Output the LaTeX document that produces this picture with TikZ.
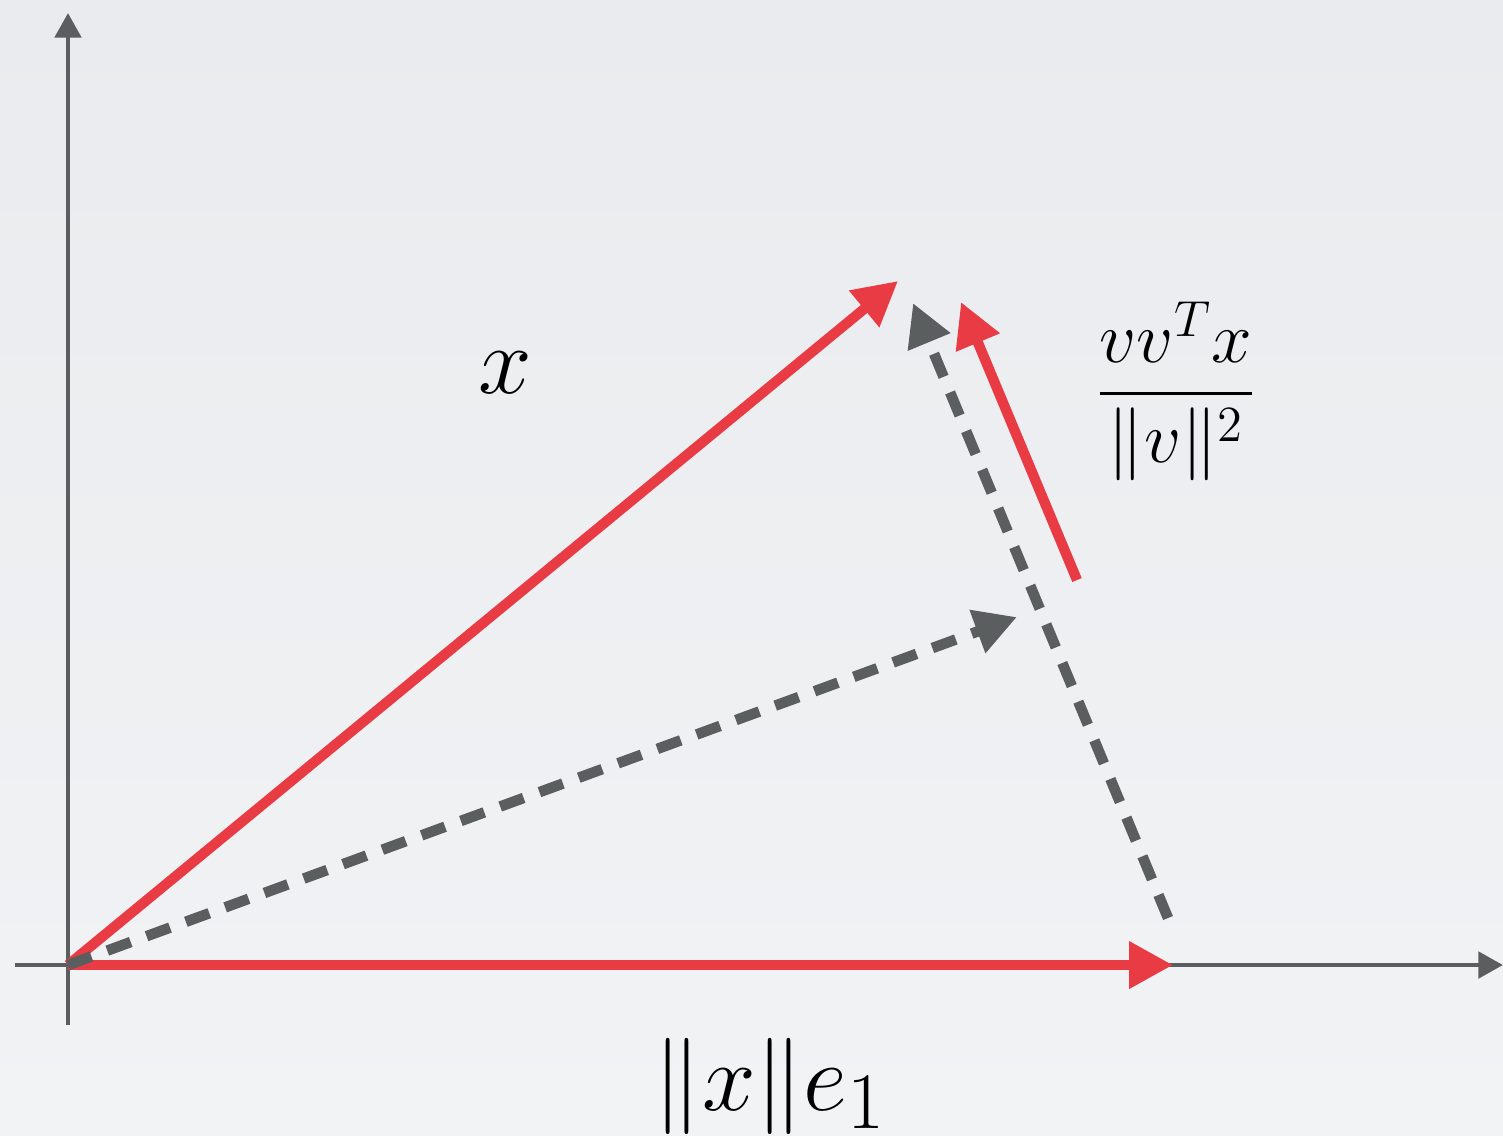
\documentclass[tikz,border=0pt]{standalone}
\usepackage{graphicx, amsmath, amssymb}
\usetikzlibrary{arrows.meta}

\definecolor{vecred}{RGB}{233,59,68}
\definecolor{axisgray}{RGB}{90,94,94}
\definecolor{bgtop}{RGB}{233,235,238}
\definecolor{bgbottom}{RGB}{242,243,245}

\tikzset{
    axis/.style={line width=1.4pt, color=axisgray, -{Triangle[length=7pt, width=7.4pt]}},
    redvec/.style={line width=2.9pt, color=vecred, -{Triangle[length=12.5pt, width=12.8pt]}},
    projvec/.style={line width=3pt, color=axisgray, dash pattern=on 7.1pt off 4.8pt, -{Triangle[length=12pt, width=12.3pt]}},
    mathlabel/.style={font=\Huge}
}

\begin{document}
\begin{tikzpicture}[x=0.01cm, y=-0.01cm]
    % Background
    \shade[top color=bgtop, bottom color=bgbottom] (0,0) rectangle (1503,1135);
    \useasboundingbox (0,0) rectangle (1503,1135);

    % Points
    \coordinate (O) at (68,965);
    \coordinate (xleft) at (15,965);
    \coordinate (xright) at (1503,965);
    \coordinate (ybottom) at (68,1025);
    \coordinate (ytop) at (68,13);
    \coordinate (xtip) at (898,281);
    \coordinate (etip) at (1173,965);
    \coordinate (vtip) at (1017,617);
    \coordinate (reflfoot) at (1168,918);
    \coordinate (refltip) at (913,303);
    \coordinate (hstart) at (1077,580);
    \coordinate (htip) at (961,302);

    % Draw axes
    \draw[axis] (xleft) -- (xright);
    \draw[axis] (ybottom) -- (ytop);

    % Draw vectors
    \draw[redvec] (O) -- (xtip);
    \draw[redvec] (O) -- (etip);
    \draw[redvec] (hstart) -- (htip);
    \draw[projvec] (O) -- (vtip);
    \draw[projvec] (reflfoot) -- (refltip);

    % Labels
    \node[mathlabel, anchor=base] (xlab) at (505,393) {\scalebox{1.1}{$x$}};
    \node[mathlabel, anchor=base] (normlab) at (770,1110) {\scalebox{1.1}{$\|x\|e_1$}};
    \node[font=\huge] (fraclab) at (1176,391) {$\displaystyle\frac{vv^Tx}{\|v\|^2}$};
\end{tikzpicture}
\end{document}
